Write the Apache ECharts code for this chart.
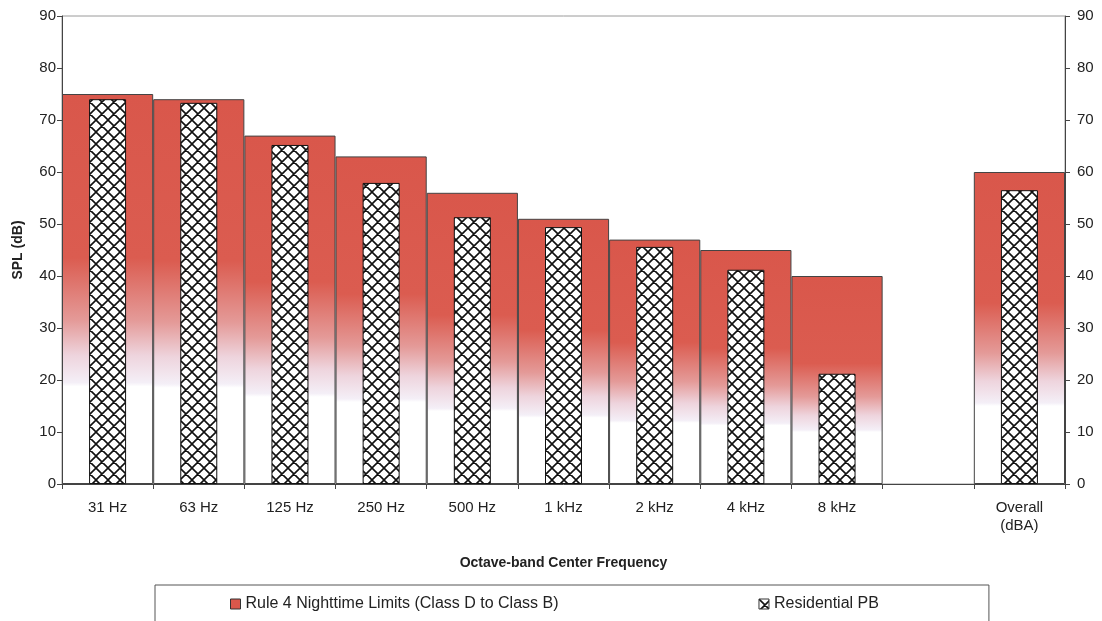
<!DOCTYPE html>
<html>
<head>
<meta charset="utf-8">
<script src="https://cdn.jsdelivr.net/npm/echarts@6/dist/echarts.min.js"></script>
<style>
  html, body { margin: 0; padding: 0; background: #fff; }
  #chart { width: 1102px; height: 621px; }
</style>
</head>
<body>
<div id="chart"></div>
<script>
// Octave bands plus an empty spacer before the overall A-weighted level
const categories = ['31 Hz', '63 Hz', '125 Hz', '250 Hz', '500 Hz', '1 kHz', '2 kHz', '4 kHz', '8 kHz', '', 'Overall\n(dBA)'];
const nighttimeLimits = [75, 74, 67, 63, 56, 51, 47, 45, 40, '-', 60];
const residentialPB = [74, 73.3, 65.2, 57.9, 51.3, 49.4, 45.6, 41.2, 21.2, '-', 56.5];
const yTicks = [0, 10, 20, 30, 40, 50, 60, 70, 80, 90];

const limitName = 'Rule 4 Nighttime Limits (Class D to Class B)';
const pbName = 'Residential PB';

// Cross-hatch tile used to fill the residential bars
function makeHatch() {
  const c = document.createElement('canvas');
  const s = 12;
  c.width = s; c.height = s;
  const g = c.getContext('2d');
  g.fillStyle = '#ffffff';
  g.fillRect(0, 0, s, s);
  g.strokeStyle = '#111';
  g.lineWidth = 1.6;
  g.beginPath();
  for (const dx of [-s, 0, s]) {
    g.moveTo(dx, 0); g.lineTo(dx + s, s);
    g.moveTo(dx + s, 0); g.lineTo(dx, s);
  }
  g.stroke();
  return c;
}
const hatch = makeHatch();

// Red at the top of each limit bar, fading to white in its lower quarter
const limitFill = {
  type: 'linear', x: 0, y: 0, x2: 0, y2: 1,
  colorStops: [
    { offset: 0, color: '#d9574b' },
    { offset: 0.42, color: '#db5c50' },
    { offset: 0.58, color: '#e49a98' },
    { offset: 0.67, color: '#eed4dd' },
    { offset: 0.74, color: '#f4eff7' },
    { offset: 0.75, color: '#ffffff' },
    { offset: 1, color: '#ffffff' }
  ]
};

const tickFont = { fontFamily: 'Liberation Sans, Arial, sans-serif', fontSize: 15, color: '#222' };

const chart = echarts.init(document.getElementById('chart'), null, { renderer: 'canvas' });
chart.setOption({
  animation: false,
  backgroundColor: '#fff',
  grid: {
    left: 62, right: 37, top: 16, bottom: 137,
    show: true, borderColor: '#9a9a9a', borderWidth: 1, backgroundColor: '#fff'
  },
  legend: {
    top: 585,
    left: 155,
    padding: [11, 110, 11, 75],
    borderColor: '#555',
    borderWidth: 1,
    itemWidth: 10,
    itemHeight: 10,
    itemGap: 200,
    textStyle: { fontFamily: 'Liberation Sans, Arial, sans-serif', fontSize: 16, color: '#222' },
    data: [
      { name: limitName, icon: 'rect', itemStyle: { color: '#d9574b', borderColor: '#333', borderWidth: 1 } },
      { name: pbName, icon: 'rect', itemStyle: { borderColor: '#333', borderWidth: 1 } }
    ]
  },
  xAxis: [
    {
      type: 'category',
      data: categories,
      boundaryGap: true,
      name: 'Octave-band Center Frequency',
      nameLocation: 'middle',
      nameGap: 72,
      nameTextStyle: { fontFamily: 'Liberation Sans, Arial, sans-serif', fontSize: 14, fontWeight: 'bold', color: '#222' },
      axisLine: { lineStyle: { color: '#444', width: 1 } },
      axisTick: { show: true, length: 5, lineStyle: { color: '#444' } },
      axisLabel: Object.assign({ margin: 15, lineHeight: 18, interval: 0 }, tickFont),
      splitLine: { show: false }
    },
    {
      type: 'category',
      data: categories,
      show: false
    }
  ],
  yAxis: [
    {
      type: 'value',
      min: 0, max: 90, interval: 10,
      position: 'left',
      name: 'SPL (dB)',
      nameLocation: 'middle',
      nameGap: 37,
      nameTextStyle: { fontFamily: 'Liberation Sans, Arial, sans-serif', fontSize: 14, fontWeight: 'bold', color: '#222' },
      axisLine: { show: true, lineStyle: { color: '#444', width: 1 } },
      axisTick: { show: true, length: 5, lineStyle: { color: '#444' } },
      axisLabel: Object.assign({ margin: 6, formatter: v => (yTicks.includes(v) ? String(v) : '') }, tickFont),
      splitLine: { show: false }
    },
    {
      type: 'value',
      min: 0, max: 90, interval: 10,
      position: 'right',
      axisLine: { show: true, lineStyle: { color: '#444', width: 1 } },
      axisTick: { show: true, length: 5, lineStyle: { color: '#444' } },
      axisLabel: Object.assign({ margin: 12, formatter: v => (yTicks.includes(v) ? String(v) : '') }, tickFont),
      splitLine: { show: false }
    }
  ],
  series: [
    {
      name: limitName,
      type: 'bar',
      xAxisIndex: 0,
      yAxisIndex: 0,
      data: nighttimeLimits,
      barCategoryGap: '0%',
      itemStyle: { color: limitFill, borderColor: '#444', borderWidth: 1 },
      z: 2
    },
    {
      name: pbName,
      type: 'bar',
      xAxisIndex: 1,
      yAxisIndex: 0,
      data: residentialPB,
      barWidth: 37,
      itemStyle: { color: { image: hatch, repeat: 'repeat' }, borderColor: '#111', borderWidth: 1 },
      z: 3
    }
  ]
});
</script>
</body>
</html>
